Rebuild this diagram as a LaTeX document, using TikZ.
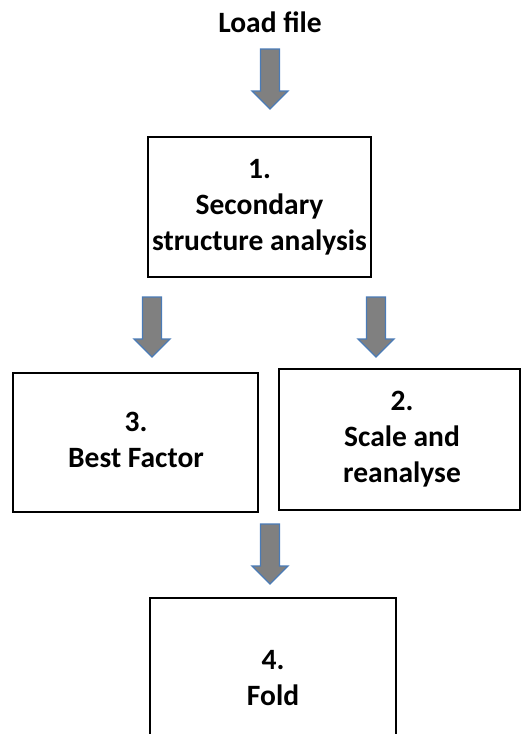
\documentclass[tikz,border=0pt]{standalone}
\usepackage{fontspec}
\setmainfont{Carlito}
\definecolor{arrfill}{HTML}{808080}
\definecolor{arredge}{HTML}{4A7BB7}
\tikzset{
  box/.style={draw=black, line width=2.8pt, fill=white},
  lbl/.style={font=\bfseries\fontsize{29.5}{36}\selectfont, align=center, inner sep=0pt},
  downarrow/.pic={
    \fill[arrfill, draw=arredge, line width=1.3pt, line join=miter]
      (-9.5,0) -- (9.5,0) -- (9.5,42) -- (18,42) -- (0,60) -- (-18,42) -- (-9.5,42) -- cycle;
  }
}
\begin{document}
\begin{tikzpicture}[x=1pt,y=-1pt]
\useasboundingbox (0,0) rectangle (522,734);
\clip (0,0) rectangle (522,734);
\node[lbl] (load) at (270,22) {Load file};
\pic at (270,49) {downarrow};
\draw[box] (148,137) rectangle (371,277);
\node[lbl] (n1) at (259.5,207) {1.\\Secondary\\structure analysis};
\pic at (152,297) {downarrow};
\pic at (376,297) {downarrow};
\draw[box] (13,373) rectangle (258,512);
\node[lbl] (n3) at (136,440) {3.\\Best Factor};
\draw[box] (279,369) rectangle (520,510);
\node[lbl] (n2) at (402,439) {2.\\Scale and\\reanalyse};
\pic at (270,524) {downarrow};
\draw[box] (150,598) rectangle (396,760);
\node[lbl] (n4) at (273,678) {4.\\Fold};
\end{tikzpicture}
\end{document}
